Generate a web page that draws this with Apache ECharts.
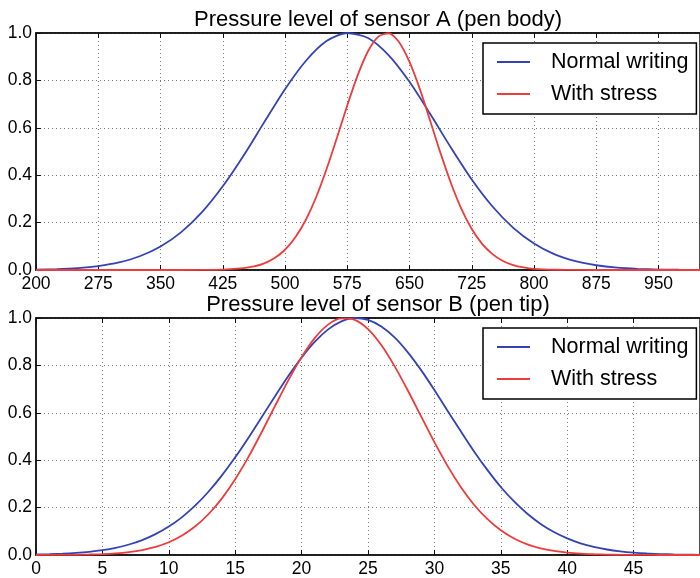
<!DOCTYPE html>
<html>
<head>
<meta charset="utf-8">
<script src="https://cdn.jsdelivr.net/npm/echarts@6/dist/echarts.min.js"></script>
<style>
html,body{margin:0;padding:0;background:#fff;overflow:hidden;}
#c{width:700px;height:578px;}
</style>
</head>
<body>
<div id="c"></div>
<script>
// ---- data ----
const seriesNames = ['Normal writing', 'With stress'];
const titles = ['Pressure level of sensor A (pen body)', 'Pressure level of sensor B (pen tip)'];

// Sensor A x ticks: 200 .. 950 step 75
const xTicksA = [200, 275, 350, 425, 500, 575, 650, 725, 800, 875, 950];
const xTicksB = [0, 5, 10, 15, 20, 25, 30, 35, 40, 45];
const yTicks = [0.0, 0.2, 0.4, 0.6, 0.8, 1.0];

const aNormalX = [200,225,250,275,300,325,350,375,400,425,450,475,500,525,550,575,600,625,650,675,700,725,750,775,800,825,850,875,900,925,950,975,1000];
const aNormalY = [0.0017,0.0039,0.0083,0.0168,0.0321,0.058,0.099,0.160,0.244,0.353,0.482,0.624,0.763,0.882,0.966,1.000,0.979,0.906,0.794,0.658,0.516,0.382,0.268,0.178,0.112,0.066,0.037,0.020,0.010,0.005,0.002,0.001,0.0004];

const aStressX = [200,250,300,350,400,425,450,462.5,475,487.5,500,512.5,525,537.5,550,562.5,575,587.5,600,612.5,625,637.5,650,662.5,675,687.5,700,712.5,725,737.5,750,762.5,775,787.5,800,825,850,900,950,1000];
const aStressY = [0,0,0,0,0.0003,0.0016,0.0075,0.0149,0.0281,0.0503,0.0854,0.138,0.211,0.307,0.425,0.557,0.694,0.821,0.923,0.985,0.999,0.961,0.878,0.763,0.629,0.492,0.366,0.258,0.173,0.110,0.067,0.038,0.021,0.011,0.005,0.001,0.0002,0,0,0];

const bX = [0,1,2,3,4,5,6,7,8,9,10,11,12,13,14,15,16,17,18,19,20,21,22,23,24,25,26,27,28,29,30,31,32,33,34,35,36,37,38,39,40,41,42,43,44,45,46,47,48,49,50];
const bNormalY = [0.0021,0.0034,0.0055,0.0088,0.0136,0.0206,0.0305,0.0443,0.0631,0.0879,0.120,0.160,0.209,0.268,0.336,0.412,0.495,0.582,0.670,0.755,0.833,0.900,0.952,0.986,1.000,0.992,0.964,0.918,0.855,0.780,0.696,0.608,0.521,0.436,0.358,0.287,0.226,0.174,0.131,0.0967,0.0699,0.0494,0.0342,0.0232,0.0154,0.0100,0.0064,0.0040,0.0024,0.0014,0.0008];
const bStressY = [0.0001,0.0003,0.0006,0.0011,0.0021,0.0039,0.0071,0.0124,0.0209,0.0340,0.0537,0.0820,0.121,0.173,0.239,0.320,0.414,0.519,0.629,0.737,0.835,0.916,0.972,0.998,0.992,0.953,0.886,0.797,0.694,0.585,0.476,0.375,0.286,0.211,0.151,0.104,0.0695,0.0449,0.0281,0.0170,0.0100,0.0056,0.0031,0.0016,0.0008,0.0004,0.0002,0.0001,0,0,0];

const xMaxA = 1000, xMaxB = 50;

// ---- styling ----
const FONT = '"Liberation Sans", Arial, Helvetica, sans-serif';
const BLUE = '#3343b5';
const RED = '#ee3b3b';
const pair = (xs, ys) => xs.map((x, i) => [x, ys[i]]);

const gridLeft = 36, gridWidth = 674, gridHeight = 237;
const gridTops = [33, 318];

function xAxes(gi, ticks, max) {
  const interval = ticks[1] - ticks[0];
  const base = {
    type: 'value', gridIndex: gi, min: ticks[0], max: max, interval: interval
  };
  return [
    Object.assign({}, base, {
      position: 'bottom',
      axisLine: { show: true, lineStyle: { color: '#111', width: 1.5 } },
      axisTick: { show: true, inside: true, length: 5, lineStyle: { color: '#111' } },
      axisLabel: { show: true, color: '#000', fontFamily: FONT, fontSize: 17.5, margin: 5, showMaxLabel: false },
      splitLine: { show: true, lineStyle: { color: '#7a7a7a', type: [1, 3], width: 1 } }
    }),
    Object.assign({}, base, {
      position: 'top',
      axisLine: { show: true, lineStyle: { color: '#111', width: 1.5 } },
      axisTick: { show: true, inside: true, length: 5, lineStyle: { color: '#111' } },
      axisLabel: { show: false },
      splitLine: { show: false }
    })
  ];
}
function yAxis(gi) {
  return {
    type: 'value', gridIndex: gi, min: yTicks[0], max: yTicks[yTicks.length - 1],
    interval: yTicks[1] - yTicks[0],
    axisLine: { show: true, lineStyle: { color: '#111', width: 1.5 } },
    axisTick: { show: true, inside: true, length: 5, lineStyle: { color: '#111' } },
    axisLabel: { color: '#000', fontFamily: FONT, fontSize: 17.5, margin: 4,
      formatter: v => v.toFixed(1) },
    splitLine: { show: true, lineStyle: { color: '#7a7a7a', type: [1, 3], width: 1 } }
  };
}
function legend(top) {
  return {
    orient: 'vertical', left: 483, top: top,
    data: seriesNames,
    icon: 'rect', itemWidth: 33, itemHeight: 2, itemGap: 10,
    padding: [8, 8, 9, 14],
    backgroundColor: '#fff', borderColor: '#000', borderWidth: 1.5,
    textStyle: { fontFamily: FONT, fontSize: 21.5, color: '#000', lineHeight: 21, padding: [0, 0, 0, 16] },
    selectedMode: false
  };
}
function line(name, data, color, xi, yi) {
  return {
    type: 'line', name: name, data: data, xAxisIndex: xi, yAxisIndex: yi,
    showSymbol: false, symbol: 'none', smooth: 0.25,
    lineStyle: { color: color, width: 1.8 }, itemStyle: { color: color },
    animation: false
  };
}

const option = {
  animation: false,
  title: titles.map((t, i) => ({
    text: t, left: gridLeft + gridWidth / 2, textAlign: 'center', top: i === 0 ? 4 : 289,
    textStyle: { fontFamily: FONT, fontSize: 22, fontWeight: 'normal', color: '#000' }
  })),
  grid: gridTops.map(t => ({
    left: gridLeft, top: t, width: gridWidth, height: gridHeight,
    show: true, borderColor: '#111', borderWidth: 1.5, backgroundColor: 'transparent'
  })),
  xAxis: [].concat(xAxes(0, xTicksA, xMaxA), xAxes(1, xTicksB, xMaxB)),
  yAxis: [yAxis(0), yAxis(1)],
  legend: [legend(43), legend(328)],
  series: [
    line(seriesNames[0], pair(aNormalX, aNormalY), BLUE, 0, 0),
    line(seriesNames[1], pair(aStressX, aStressY), RED, 0, 0),
    line(seriesNames[0], pair(bX, bNormalY), BLUE, 2, 1),
    line(seriesNames[1], pair(bX, bStressY), RED, 2, 1)
  ]
};

const chart = echarts.init(document.getElementById('c'), null, { renderer: 'canvas' });
chart.setOption(option);
</script>
</body>
</html>
